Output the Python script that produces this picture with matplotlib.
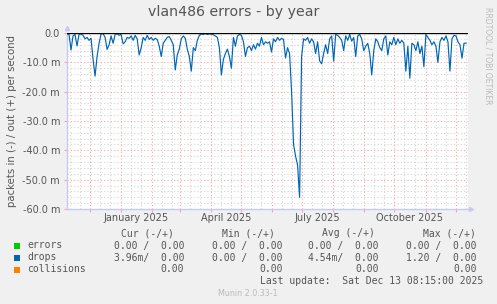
import numpy as np
import pandas as pd
import matplotlib
matplotlib.use('Agg')
import matplotlib.pyplot as plt
from matplotlib.patches import Rectangle

W, H = 497, 304

start = pd.Timestamp('2024-11-08 08:15')
end = pd.Timestamp('2025-12-13 08:15')

# drops, in direction (milli packets / s), one reading every 2 days from start
drops_in = [
    0.3, 0.5, 5.8, 1.0, 0.5, 4.4, 0.5, 0.3, 0.8, 2.0,
    1.5, 2.5, 1.8, 9.0, 14.7, 8.0, 3.5, 0.3, 0.2, 1.5,
    5.6, 4.0, 1.0, 3.5, 0.5, 0.3, 0.8, 0.5, 3.7, 3.0,
    1.5, 1.8, 1.0, 2.5, 0.8, 2.0, 7.5, 5.0, 1.5, 2.5,
    0.8, 2.2, 1.5, 2.5, 1.8, 2.2, 4.5, 8.0, 3.5, 2.5,
    1.5, 1.2, 2.5, 4.0, 12.6, 7.5, 5.5, 2.0, 1.0, 1.8,
    5.5, 8.0, 13.0, 5.0, 6.0, 2.5, 0.8, 0.3, 0.5, 0.2,
    0.5, 0.3, 0.4, 0.6, 1.0, 1.5, 5.0, 14.3, 9.0, 7.0,
    5.5, 8.0, 12.0, 1.5, 4.5, 1.0, 0.5, 0.8, 3.0, 8.0,
    5.0, 4.5, 6.0, 4.0, 5.5, 3.5, 4.5, 1.5, 4.0, 3.0,
    3.5, 3.0, 6.5, 2.0, 3.0, 1.5, 2.5, 1.8, 2.2, 8.5,
    5.0, 7.0, 19.8, 38.0, 42.0, 45.0, 56.0, 8.0, 2.0, 2.5,
    1.5, 3.5, 2.0, 3.0, 7.0, 3.0, 9.5, 10.5, 7.0, 4.0,
    7.0, 2.0, 1.0, 9.6, 0.5, 0.8, 1.5, 2.5, 6.0, 1.0,
    2.5, 0.5, 2.8, 1.5, 8.0, 1.0, 0.5, 2.0, 6.0, 4.5,
    3.5, 7.0, 14.3, 6.0, 2.0, 3.0, 5.0, 6.0, 2.0, 1.0,
    7.5, 3.0, 4.0, 1.5, 4.0, 2.0, 3.5, 2.5, 3.5, 13.0,
    4.5, 15.4, 3.5, 4.0, 6.0, 3.0, 7.0, 4.5, 11.5, 0.5,
    1.5, 2.5, 4.0, 3.0, 4.5, 10.0, 3.0, 1.5, 2.5, 1.0,
    3.0, 13.0, 2.0, 0.8, 1.0, 3.0, 4.0, 8.6, 3.5, 3.5,
]
step_days = 2

y_ticks = [0, -10, -20, -30, -40, -50, -60]
y_ticklabels = ['0.0', '-10.0 m', '-20.0 m', '-30.0 m', '-40.0 m', '-50.0 m', '-60.0 m']
x_labels = ['January 2025', 'April 2025', 'July 2025', 'October 2025']
x_label_dates = ['2025-01-16', '2025-04-16', '2025-07-16', '2025-10-16']

legend_names = ['errors', 'drops', 'collisions']
legend_colors = ['#00cc00', '#0066b3', '#ff8000']
cur_vals = ['0.00 /  0.00', '3.96m/  0.00', '0.00']
min_vals = ['0.00 /  0.00', '0.00 /  0.00', '0.00']
avg_vals = ['0.00 /  0.00', '4.54m/  0.00', '0.00']
max_vals = ['0.00 /  0.00', '1.20 /  0.00', '0.00']

dates = start + pd.to_timedelta(np.arange(len(drops_in)) * step_days, unit='D')


def fx(x):
    return x / W


def fy(y):
    return 1 - y / H


fig = plt.figure(figsize=(W / 100, H / 100), dpi=100, facecolor='#f0f0f0')
ax = fig.add_axes([fx(67), fy(209), (468 - 67) / W, (209 - 33) / H])
ax.set_facecolor('white')
ax.set_xlim(start, end)
ax.set_ylim(-60, 0)

# grid
for v in np.arange(-58, 0, 2):
    if v % 10 == 0:
        ax.axhline(v, color='#f2a8a8', lw=0.8, ls=(0, (1, 2)), zorder=1)
    else:
        ax.axhline(v, color='#d4d4d4', lw=0.8, ls=(0, (1, 2)), zorder=1)
months = pd.date_range('2024-11-01', '2025-12-31', freq='MS')
month_lines = [m for m in months if start < m < end]
for m in months:
    for d in (10, 20):
        t = m + pd.Timedelta(days=d)
        if start < t < end:
            ax.axvline(t, color='#d4d4d4', lw=0.8, ls=(0, (1, 2)), zorder=1)
for m in month_lines:
    ax.axvline(m, color='#f2a8a8', lw=0.8, ls=(0, (1, 2)), zorder=1)

ax.plot(dates, -np.array(drops_in), color='#0066b3', lw=0.85, zorder=3)
ax.axhline(0, color='black', lw=1.0, zorder=4)

for s in ['top', 'right']:
    ax.spines[s].set_visible(False)
for s in ['left', 'bottom']:
    ax.spines[s].set_color('#c8c8f4')
    ax.spines[s].set_linewidth(1.0)

ax.set_yticks(y_ticks)
ax.set_yticklabels(y_ticklabels)
ax.tick_params(axis='y', length=2, color='#f2a8a8', labelsize=7, labelcolor='#555555', pad=3)
ax.set_xticks(month_lines)
ax.set_xticklabels([])
ax.tick_params(axis='x', which='major', length=2, color='#f2a8a8')
ax.set_xticks(pd.to_datetime(x_label_dates), minor=True)
ax.set_xticklabels(x_labels, minor=True)
ax.tick_params(axis='x', which='minor', length=0, labelsize=7, labelcolor='#555555', pad=3)

# axis arrows
fig.lines.append(plt.Line2D([fx(67)], [fy(28)], marker='^', markersize=3, color='#c8c8f4',
                            transform=fig.transFigure))
fig.lines.append(plt.Line2D([fx(471)], [fy(209)], marker='>', markersize=3, color='#c8c8f4',
                            transform=fig.transFigure))

fig.text(fx(234), fy(12), 'vlan486 errors - by year', ha='center', va='center',
         fontsize=10.2, color='#555555')
fig.text(fx(12), fy(121), 'packets in (-) / out (+) per second', ha='center', va='center',
         rotation=90, fontsize=7.3, color='#555555')
fig.text(fx(488), fy(56), 'RRDTOOL / TOBI OETIKER', ha='center', va='center',
         rotation=270, fontsize=5.5, color='#bbbbbb')

mono = dict(family='DejaVu Sans Mono', fontsize=7, color='#555555', va='center')
headers = ['Cur (-/+)', 'Min (-/+)', 'Avg (-/+)', 'Max (-/+)']
head_right = [174, 275, 375, 476]
col_right = [184, 283, 379, 477]
for h, xr in zip(headers, head_right):
    fig.text(fx(xr), fy(233), h, ha='right', **mono)

rows_y = [245.5, 257.5, 269.5]
for i, name in enumerate(legend_names):
    yy = rows_y[i]
    fig.patches.append(Rectangle((fx(14), fy(yy + 3)), 6 / W, 6 / H, facecolor=legend_colors[i],
                                 edgecolor='none', transform=fig.transFigure))
    fig.text(fx(27), fy(yy), name, ha='left', **mono)
    for vals, xr in zip([cur_vals, min_vals, avg_vals, max_vals], col_right):
        fig.text(fx(xr), fy(yy), vals[i], ha='right', **mono)

fig.text(fx(483), fy(281.5), 'Last update:  Sat Dec 13 08:15:00 2025', ha='right', **mono)
fig.text(fx(248), fy(293), 'Munin 2.0.33-1', ha='center', va='center', fontsize=5.8, color='#bbbbbb')

fig.savefig('out.png', dpi=100, facecolor=fig.get_facecolor())
